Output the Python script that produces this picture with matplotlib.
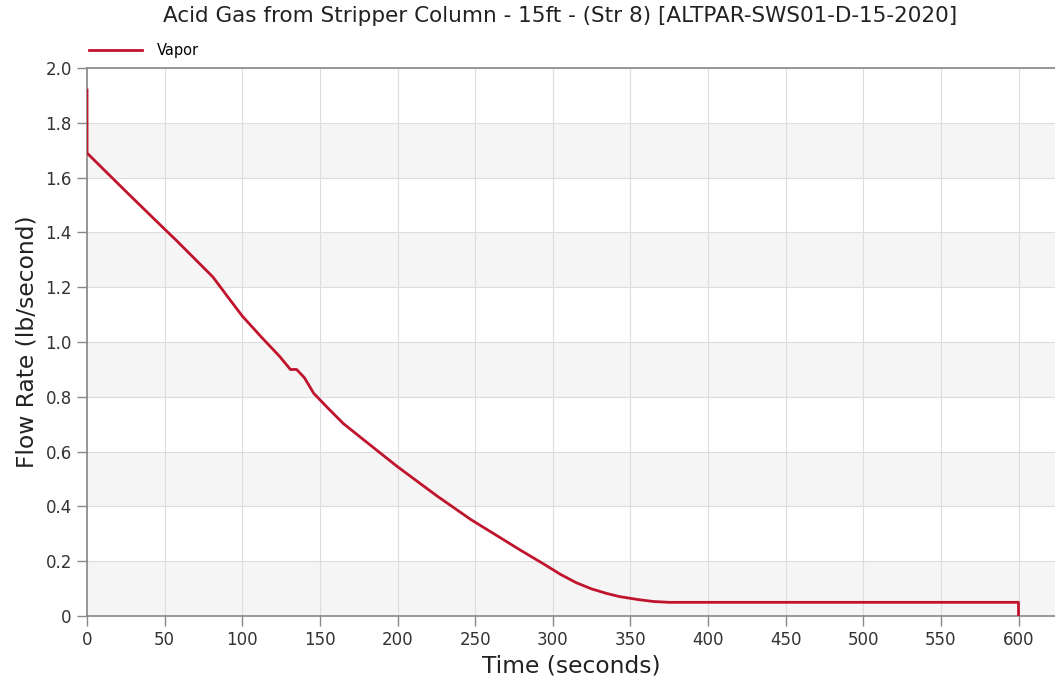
import numpy as np
import matplotlib.pyplot as plt

# Vapor flow from the stripper column over the run
time_s = [0, 0, 25, 50, 57, 81, 90, 100, 112, 124, 131, 135, 140,
          146, 155, 165, 180, 200, 225, 247, 265, 279, 295, 305, 315, 325,
          335, 343, 355, 365, 375, 450, 550, 600, 600]
flow_lb_s = [1.92, 1.69, 1.55, 1.412, 1.374, 1.238, 1.17, 1.095,
             1.02, 0.948, 0.90, 0.90, 0.87, 0.813, 0.76, 0.703, 0.635, 0.545,
             0.44, 0.353, 0.29, 0.241, 0.187, 0.152, 0.122, 0.099, 0.082,
             0.071, 0.060, 0.053, 0.05, 0.05, 0.05, 0.05, 0.0]

x_ticks = list(range(0, 601, 50))
y_ticks = [0, 0.2, 0.4, 0.6, 0.8, 1.0, 1.2, 1.4, 1.6, 1.8, 2.0]
y_labels = ['0', '0.2', '0.4', '0.6', '0.8', '1.0', '1.2', '1.4', '1.6', '1.8', '2.0']

fig = plt.figure(figsize=(10.55, 6.81), dpi=100)
ax = fig.add_axes([0.0825, 0.0954, 0.9175, 0.8046])

# alternating light bands
for lo in [0, 0.4, 0.8, 1.2, 1.6]:
    ax.axhspan(lo, lo + 0.2, color='#f5f5f5', zorder=0, lw=0)

ax.plot(time_s, flow_lb_s, color='#c0142c', lw=2, label='Vapor', zorder=3)

ax.set_xlim(0, 623.5)
ax.set_ylim(0, 2.0)
ax.set_xticks(x_ticks)
ax.set_yticks(y_ticks)
ax.set_yticklabels(y_labels)
ax.grid(True, color='#dddddd', lw=0.8, zorder=1)
ax.set_axisbelow(True)

for side in ['left', 'bottom', 'top']:
    ax.spines[side].set_color('#888888')
    ax.spines[side].set_linewidth(1.2)
ax.spines['right'].set_visible(False)
ax.tick_params(direction='out', length=7, width=1, color='#888888',
               labelsize=12, labelcolor='#333333', pad=4)

ax.set_xlabel('Time (seconds)', fontsize=16.8, color='#222222', labelpad=4)
ax.set_ylabel('Flow Rate (lb/second)', fontsize=16.8, color='#222222', labelpad=5)
fig.text(0.531, 0.977, 'Acid Gas from Stripper Column - 15ft - (Str 8) [ALTPAR-SWS01-D-15-2020]',
         ha='center', va='center', fontsize=15.5, color='#222222')

ax.legend(loc='lower left', bbox_to_anchor=(-0.005, 1.005), frameon=False,
          fontsize=10.5, handlelength=3.6, borderaxespad=0.1, handletextpad=1)

fig.savefig('out.png', dpi=100)
